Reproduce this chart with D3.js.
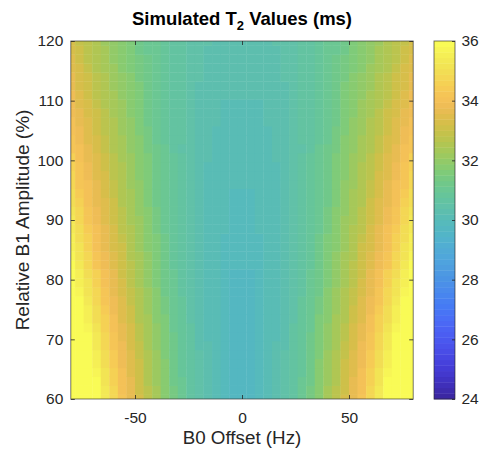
<!DOCTYPE html>
<html>
<head>
<meta charset="utf-8">
<script src="https://cdn.jsdelivr.net/npm/d3@7"></script>
<style>
  html, body { margin: 0; padding: 0; background: #ffffff; }
  svg { display: block; font-family: "Liberation Sans", Arial, Helvetica, sans-serif; }
</style>
</head>
<body>
<svg id="chart" width="480" height="452"></svg>
<script>
// B0 offsets (Hz), one per grid column
const offsetsHz = [-80,-76,-72,-68,-64,-60,-56,-52,-48,-44,-40,-36,-32,-28,-24,-20,-16,-12,-8,-4,0,
  4,8,12,16,20,24,28,32,36,40,44,48,52,56,60,64,68,72,76,80];

// Relative B1 amplitudes (%), one per grid row (bottom to top)
const b1Levels = [60,61.5,63,64.5,66,67.5,69,70.5,72,73.5,75,76.5,78,79.5,81,82.5,84,85.5,87,88.5,90,
  91.5,93,94.5,96,97.5,99,100.5,102,103.5,105,106.5,108,109.5,111,112.5,114,115.5,117,118.5,120];

// Simulated T2 (ms); t2Rows[r][c] belongs to b1Levels[r] and offsetsHz[c]
const t2Rows = [
  [38.2,37.5,36.8,36.1,35.4,34.8,34.2,33.7,33.2,32.7,32.3,31.8,31.4,31.0,30.7,30.4,30.2,30.0,29.9,29.8,29.8,29.8,29.9,30.0,30.2,30.4,30.7,31.0,31.4,31.8,32.3,32.7,33.2,33.7,34.2,34.8,35.4,36.1,36.8,37.5,38.2],
  [38.1,37.4,36.7,36.0,35.3,34.7,34.1,33.6,33.1,32.7,32.3,31.8,31.4,31.0,30.7,30.4,30.2,30.0,29.9,29.8,29.8,29.8,29.9,30.0,30.2,30.4,30.7,31.0,31.4,31.8,32.3,32.7,33.1,33.6,34.1,34.7,35.3,36.0,36.7,37.4,38.1],
  [37.9,37.2,36.5,35.9,35.2,34.6,34.1,33.6,33.1,32.6,32.2,31.7,31.3,31.0,30.7,30.4,30.2,30.0,29.9,29.8,29.8,29.8,29.9,30.0,30.2,30.4,30.7,31.0,31.3,31.7,32.2,32.6,33.1,33.6,34.1,34.6,35.2,35.9,36.5,37.2,37.9],
  [37.8,37.1,36.4,35.7,35.1,34.5,34.0,33.5,33.0,32.6,32.2,31.7,31.3,30.9,30.6,30.4,30.2,30.0,29.9,29.8,29.8,29.8,29.9,30.0,30.2,30.4,30.6,30.9,31.3,31.7,32.2,32.6,33.0,33.5,34.0,34.5,35.1,35.7,36.4,37.1,37.8],
  [37.6,37.0,36.3,35.6,35.0,34.4,33.9,33.4,33.0,32.5,32.1,31.7,31.3,30.9,30.6,30.4,30.2,30.0,29.9,29.8,29.8,29.8,29.9,30.0,30.2,30.4,30.6,30.9,31.3,31.7,32.1,32.5,33.0,33.4,33.9,34.4,35.0,35.6,36.3,37.0,37.6],
  [37.5,36.8,36.2,35.5,34.9,34.4,33.9,33.4,32.9,32.5,32.1,31.6,31.2,30.9,30.6,30.4,30.2,30.0,29.9,29.8,29.8,29.8,29.9,30.0,30.2,30.4,30.6,30.9,31.2,31.6,32.1,32.5,32.9,33.4,33.9,34.4,34.9,35.5,36.2,36.8,37.5],
  [37.4,36.7,36.1,35.4,34.8,34.3,33.8,33.3,32.9,32.4,32.0,31.6,31.2,30.9,30.6,30.3,30.2,30.0,29.9,29.8,29.8,29.8,29.9,30.0,30.2,30.3,30.6,30.9,31.2,31.6,32.0,32.4,32.9,33.3,33.8,34.3,34.8,35.4,36.1,36.7,37.4],
  [37.2,36.6,35.9,35.3,34.7,34.2,33.7,33.3,32.8,32.4,32.0,31.6,31.2,30.9,30.6,30.3,30.1,30.0,29.9,29.8,29.8,29.8,29.9,30.0,30.1,30.3,30.6,30.9,31.2,31.6,32.0,32.4,32.8,33.3,33.7,34.2,34.7,35.3,35.9,36.6,37.2],
  [37.1,36.4,35.8,35.2,34.6,34.1,33.6,33.2,32.7,32.3,31.9,31.5,31.1,30.8,30.6,30.3,30.1,30.0,29.9,29.8,29.8,29.8,29.9,30.0,30.1,30.3,30.6,30.8,31.1,31.5,31.9,32.3,32.7,33.2,33.6,34.1,34.6,35.2,35.8,36.4,37.1],
  [36.9,36.2,35.6,35.0,34.5,34.0,33.5,33.1,32.6,32.3,31.8,31.5,31.1,30.8,30.5,30.3,30.1,30.0,29.9,29.8,29.8,29.8,29.9,30.0,30.1,30.3,30.5,30.8,31.1,31.5,31.8,32.3,32.6,33.1,33.5,34.0,34.5,35.0,35.6,36.2,36.9],
  [36.7,36.1,35.5,34.9,34.4,33.9,33.5,33.0,32.6,32.2,31.8,31.4,31.1,30.8,30.5,30.3,30.1,30.0,29.9,29.8,29.8,29.8,29.9,30.0,30.1,30.3,30.5,30.8,31.1,31.4,31.8,32.2,32.6,33.0,33.5,33.9,34.4,34.9,35.5,36.1,36.7],
  [36.5,35.9,35.3,34.8,34.3,33.8,33.4,32.9,32.5,32.2,31.7,31.4,31.0,30.8,30.5,30.3,30.1,30.0,29.9,29.8,29.8,29.8,29.9,30.0,30.1,30.3,30.5,30.8,31.0,31.4,31.7,32.2,32.5,32.9,33.4,33.8,34.3,34.8,35.3,35.9,36.5],
  [36.4,35.8,35.2,34.7,34.2,33.7,33.3,32.9,32.5,32.1,31.7,31.3,31.0,30.7,30.5,30.3,30.1,30.0,29.9,29.8,29.8,29.8,29.9,30.0,30.1,30.3,30.5,30.7,31.0,31.3,31.7,32.1,32.5,32.9,33.3,33.7,34.2,34.7,35.2,35.8,36.4],
  [36.2,35.6,35.1,34.6,34.1,33.6,33.2,32.8,32.4,32.0,31.6,31.3,31.0,30.7,30.5,30.3,30.1,30.0,29.9,29.8,29.8,29.8,29.9,30.0,30.1,30.3,30.5,30.7,31.0,31.3,31.6,32.0,32.4,32.8,33.2,33.6,34.1,34.6,35.1,35.6,36.2],
  [36.1,35.5,35.0,34.5,34.0,33.6,33.1,32.7,32.4,32.0,31.6,31.3,31.0,30.7,30.5,30.3,30.1,30.0,29.9,29.8,29.8,29.8,29.9,30.0,30.1,30.3,30.5,30.7,31.0,31.3,31.6,32.0,32.4,32.7,33.1,33.6,34.0,34.5,35.0,35.5,36.1],
  [35.9,35.3,34.8,34.3,33.9,33.5,33.1,32.7,32.3,31.9,31.6,31.2,30.9,30.7,30.5,30.3,30.1,30.0,29.9,29.9,29.9,29.9,29.9,30.0,30.1,30.3,30.5,30.7,30.9,31.2,31.6,31.9,32.3,32.7,33.1,33.5,33.9,34.3,34.8,35.3,35.9],
  [35.8,35.2,34.7,34.2,33.8,33.4,33.0,32.6,32.3,31.9,31.6,31.2,30.9,30.7,30.4,30.3,30.1,30.0,29.9,29.9,29.9,29.9,29.9,30.0,30.1,30.3,30.4,30.7,30.9,31.2,31.6,31.9,32.3,32.6,33.0,33.4,33.8,34.2,34.7,35.2,35.8],
  [35.6,35.1,34.6,34.1,33.7,33.3,33.0,32.6,32.2,31.8,31.5,31.2,30.9,30.7,30.4,30.3,30.1,30.0,29.9,29.9,29.9,29.9,29.9,30.0,30.1,30.3,30.4,30.7,30.9,31.2,31.5,31.8,32.2,32.6,33.0,33.3,33.7,34.1,34.6,35.1,35.6],
  [35.5,35.0,34.5,34.1,33.7,33.3,32.9,32.5,32.2,31.8,31.5,31.2,30.9,30.7,30.4,30.3,30.1,30.0,29.9,29.9,29.9,29.9,29.9,30.0,30.1,30.3,30.4,30.7,30.9,31.2,31.5,31.8,32.2,32.5,32.9,33.3,33.7,34.1,34.5,35.0,35.5],
  [35.4,34.9,34.4,34.0,33.6,33.2,32.8,32.5,32.1,31.8,31.4,31.1,30.9,30.6,30.4,30.3,30.1,30.0,30.0,29.9,29.9,29.9,30.0,30.0,30.1,30.3,30.4,30.6,30.9,31.1,31.4,31.8,32.1,32.5,32.8,33.2,33.6,34.0,34.4,34.9,35.4],
  [35.3,34.8,34.3,33.9,33.5,33.1,32.7,32.4,32.1,31.7,31.4,31.1,30.9,30.6,30.4,30.3,30.1,30.0,30.0,29.9,29.9,29.9,30.0,30.0,30.1,30.3,30.4,30.6,30.9,31.1,31.4,31.7,32.1,32.4,32.7,33.1,33.5,33.9,34.3,34.8,35.3],
  [35.1,34.7,34.2,33.8,33.4,33.1,32.7,32.4,32.0,31.7,31.4,31.1,30.8,30.6,30.4,30.3,30.1,30.0,30.0,29.9,29.9,29.9,30.0,30.0,30.1,30.3,30.4,30.6,30.8,31.1,31.4,31.7,32.0,32.4,32.7,33.1,33.4,33.8,34.2,34.7,35.1],
  [35.0,34.6,34.1,33.7,33.4,33.0,32.6,32.3,32.0,31.6,31.3,31.0,30.8,30.6,30.4,30.3,30.1,30.0,30.0,29.9,29.9,29.9,30.0,30.0,30.1,30.3,30.4,30.6,30.8,31.0,31.3,31.6,32.0,32.3,32.6,33.0,33.4,33.7,34.1,34.6,35.0],
  [34.9,34.4,34.0,33.7,33.3,32.9,32.6,32.3,31.9,31.6,31.3,31.0,30.8,30.6,30.4,30.3,30.1,30.0,30.0,29.9,29.9,29.9,30.0,30.0,30.1,30.3,30.4,30.6,30.8,31.0,31.3,31.6,31.9,32.3,32.6,32.9,33.3,33.7,34.0,34.4,34.9],
  [34.8,34.3,34.0,33.6,33.2,32.9,32.5,32.2,31.9,31.6,31.3,31.0,30.8,30.6,30.4,30.3,30.1,30.1,30.0,30.0,30.0,30.0,30.0,30.1,30.1,30.3,30.4,30.6,30.8,31.0,31.3,31.6,31.9,32.2,32.5,32.9,33.2,33.6,34.0,34.3,34.8],
  [34.7,34.2,33.9,33.5,33.2,32.8,32.5,32.2,31.8,31.5,31.3,31.0,30.8,30.6,30.4,30.3,30.1,30.1,30.0,30.0,30.0,30.0,30.0,30.1,30.1,30.3,30.4,30.6,30.8,31.0,31.3,31.5,31.8,32.2,32.5,32.8,33.2,33.5,33.9,34.2,34.7],
  [34.6,34.2,33.8,33.4,33.1,32.7,32.5,32.1,31.8,31.5,31.2,31.0,30.8,30.6,30.4,30.3,30.1,30.1,30.0,30.0,30.0,30.0,30.0,30.1,30.1,30.3,30.4,30.6,30.8,31.0,31.2,31.5,31.8,32.1,32.5,32.7,33.1,33.4,33.8,34.2,34.6],
  [34.5,34.1,33.7,33.4,33.0,32.7,32.4,32.1,31.7,31.5,31.2,31.0,30.8,30.6,30.4,30.3,30.2,30.1,30.0,30.0,30.0,30.0,30.0,30.1,30.2,30.3,30.4,30.6,30.8,31.0,31.2,31.5,31.7,32.1,32.4,32.7,33.0,33.4,33.7,34.1,34.5],
  [34.3,34.0,33.6,33.3,32.9,32.6,32.3,32.0,31.7,31.4,31.2,31.0,30.7,30.5,30.4,30.3,30.2,30.1,30.0,30.0,30.0,30.0,30.0,30.1,30.2,30.3,30.4,30.5,30.7,31.0,31.2,31.4,31.7,32.0,32.3,32.6,32.9,33.3,33.6,34.0,34.3],
  [34.2,33.9,33.5,33.2,32.9,32.6,32.3,32.0,31.7,31.4,31.1,30.9,30.7,30.6,30.4,30.3,30.2,30.1,30.1,30.0,30.0,30.0,30.1,30.1,30.2,30.3,30.4,30.6,30.7,30.9,31.1,31.4,31.7,32.0,32.3,32.6,32.9,33.2,33.5,33.9,34.2],
  [34.1,33.8,33.5,33.1,32.8,32.5,32.2,31.9,31.6,31.4,31.1,30.9,30.7,30.6,30.4,30.3,30.2,30.1,30.1,30.1,30.1,30.1,30.1,30.1,30.2,30.3,30.4,30.6,30.7,30.9,31.1,31.4,31.6,31.9,32.2,32.5,32.8,33.1,33.5,33.8,34.1],
  [34.0,33.7,33.4,33.1,32.7,32.5,32.2,31.9,31.6,31.3,31.1,30.9,30.7,30.6,30.4,30.3,30.2,30.2,30.1,30.1,30.1,30.1,30.1,30.2,30.2,30.3,30.4,30.6,30.7,30.9,31.1,31.3,31.6,31.9,32.2,32.5,32.7,33.1,33.4,33.7,34.0],
  [33.9,33.6,33.3,33.0,32.7,32.4,32.1,31.8,31.6,31.3,31.1,30.9,30.7,30.6,30.4,30.3,30.2,30.2,30.1,30.1,30.1,30.1,30.1,30.2,30.2,30.3,30.4,30.6,30.7,30.9,31.1,31.3,31.6,31.8,32.1,32.4,32.7,33.0,33.3,33.6,33.9],
  [33.9,33.5,33.2,32.9,32.6,32.4,32.1,31.8,31.5,31.3,31.1,30.9,30.7,30.6,30.4,30.3,30.2,30.2,30.1,30.1,30.1,30.1,30.1,30.2,30.2,30.3,30.4,30.6,30.7,30.9,31.1,31.3,31.5,31.8,32.1,32.4,32.6,32.9,33.2,33.5,33.9],
  [33.8,33.4,33.1,32.8,32.6,32.3,32.0,31.7,31.5,31.3,31.1,30.9,30.7,30.6,30.5,30.3,30.3,30.2,30.2,30.2,30.2,30.2,30.2,30.2,30.3,30.3,30.5,30.6,30.7,30.9,31.1,31.3,31.5,31.7,32.0,32.3,32.6,32.8,33.1,33.4,33.8],
  [33.6,33.3,33.0,32.8,32.5,32.2,31.9,31.7,31.5,31.2,31.0,30.9,30.7,30.6,30.5,30.3,30.3,30.2,30.2,30.2,30.2,30.2,30.2,30.2,30.3,30.3,30.5,30.6,30.7,30.9,31.0,31.2,31.5,31.7,31.9,32.2,32.5,32.8,33.0,33.3,33.6],
  [33.6,33.3,33.0,32.7,32.5,32.2,31.9,31.7,31.4,31.2,31.0,30.9,30.7,30.6,30.5,30.4,30.3,30.3,30.2,30.2,30.2,30.2,30.2,30.3,30.3,30.4,30.5,30.6,30.7,30.9,31.0,31.2,31.4,31.7,31.9,32.2,32.5,32.7,33.0,33.3,33.6],
  [33.5,33.2,32.9,32.6,32.4,32.1,31.8,31.6,31.4,31.2,31.0,30.8,30.7,30.6,30.5,30.4,30.3,30.3,30.2,30.2,30.2,30.2,30.2,30.3,30.3,30.4,30.5,30.6,30.7,30.8,31.0,31.2,31.4,31.6,31.8,32.1,32.4,32.6,32.9,33.2,33.5],
  [33.4,33.1,32.8,32.6,32.3,32.0,31.8,31.6,31.4,31.2,31.0,30.8,30.7,30.6,30.5,30.4,30.3,30.3,30.2,30.2,30.2,30.2,30.2,30.3,30.3,30.4,30.5,30.6,30.7,30.8,31.0,31.2,31.4,31.6,31.8,32.0,32.3,32.6,32.8,33.1,33.4],
  [33.3,33.0,32.7,32.5,32.3,32.0,31.8,31.5,31.3,31.1,31.0,30.8,30.7,30.6,30.5,30.4,30.3,30.3,30.3,30.3,30.3,30.3,30.3,30.3,30.3,30.4,30.5,30.6,30.7,30.8,31.0,31.1,31.3,31.5,31.8,32.0,32.3,32.5,32.7,33.0,33.3],
  [33.2,32.9,32.7,32.5,32.2,31.9,31.7,31.5,31.3,31.1,31.0,30.8,30.7,30.6,30.5,30.4,30.4,30.3,30.3,30.3,30.3,30.3,30.3,30.3,30.4,30.4,30.5,30.6,30.7,30.8,31.0,31.1,31.3,31.5,31.7,31.9,32.2,32.5,32.7,32.9,33.2]
];

// Colour axis limits and ticks
const colorTicks = [24, 26, 28, 30, 32, 34, 36];
const xTicks = [-50, 0, 50];
const yTicks = [60, 70, 80, 90, 100, 110, 120];

// parula colour map, 64 entries (sRGB)
const parula = [
  "#3e26a8","#402ab4","#422ec0","#4332cb","#4537d5","#463cde","#4741e5","#4747eb",
  "#484df0","#4852f4","#4758f8","#465efb","#4563fd","#4269fe","#3e6fff","#3875fe",
  "#327cfc","#2f81fa","#2e87f7","#2d8cf3","#2b91ef","#2796eb","#259be8","#23a0e5",
  "#20a5e3","#1ca9df","#18addb","#12b1d6","#08b5d0","#01b8ca","#02bac3","#0bbdbd",
  "#19bfb6","#24c1ae","#2cc4a7","#31c69f","#37c897","#3fca8e","#4acb84","#57cc7a",
  "#64cd6f","#72cd64","#81cc59","#8fcb4e","#9dc943","#abc739","#b9c431","#c5c22a",
  "#d1bf27","#dcbd29","#e6bb2d","#f0ba36","#f8ba3d","#febe3c","#fec338","#fec934",
  "#fccf30","#fad62d","#f7dc2a","#f5e327","#f5e924","#f6ef20","#f7f51b","#f9fb15"
];

// re-express each colour in Display P3 channel values (softer, screen-captured look)
function toDisplayP3(hex) {
  const c = d3.rgb(hex);
  const lin = v => { v /= 255; return v <= 0.04045 ? v / 12.92 : Math.pow((v + 0.055) / 1.055, 2.4); };
  const enc = v => {
    v = Math.max(0, Math.min(1, v));
    return 255 * (v <= 0.0031308 ? 12.92 * v : 1.055 * Math.pow(v, 1 / 2.4) - 0.055);
  };
  const r = lin(c.r), g = lin(c.g), b = lin(c.b);
  return d3.rgb(
    enc(0.8225 * r + 0.1774 * g),
    enc(0.0332 * r + 0.9669 * g),
    enc(0.0171 * r + 0.0724 * g + 0.9108 * b)
  ).formatHex();
}
const palette = parula.map(toDisplayP3);

const svg = d3.select("#chart");
const ink = "#262626";

const plot = { left: 70.8, right: 413.2, top: 41, bottom: 399 };
const bar = { left: 434, right: 455, top: 41, bottom: 399 };

const xExtent = d3.extent(offsetsHz);
const yExtent = d3.extent(b1Levels);
const x = d3.scaleLinear().domain(xExtent).range([plot.left, plot.right]);
const y = d3.scaleLinear().domain(yExtent).range([plot.bottom, plot.top]);
const cDomain = d3.extent(colorTicks);
const color = d3.scaleQuantize().domain(cDomain).range(palette);

// image cells: each value sits at the centre of its cell, edges clipped to the axes
const dx = offsetsHz[1] - offsetsHz[0];
const dy = b1Levels[1] - b1Levels[0];
const cells = [];
t2Rows.forEach((row, r) => {
  row.forEach((v, c) => {
    cells.push({
      x0: Math.max(offsetsHz[c] - dx / 2, xExtent[0]),
      x1: Math.min(offsetsHz[c] + dx / 2, xExtent[1]),
      y0: Math.max(b1Levels[r] - dy / 2, yExtent[0]),
      y1: Math.min(b1Levels[r] + dy / 2, yExtent[1]),
      v
    });
  });
});

svg.append("clipPath").attr("id", "plot-clip")
  .append("rect")
  .attr("x", plot.left).attr("y", plot.top)
  .attr("width", plot.right - plot.left).attr("height", plot.bottom - plot.top);

svg.append("g").attr("clip-path", "url(#plot-clip)")
  .selectAll("rect")
  .data(cells)
  .join("rect")
  .attr("x", d => x(d.x0))
  .attr("y", d => y(d.y1))
  .attr("width", d => x(d.x1) - x(d.x0) + 0.4)
  .attr("height", d => y(d.y0) - y(d.y1) + 0.4)
  .attr("fill", d => color(d.v));

// axes, ticks pointing inwards on all four sides
const tickLen = 4;
const noLabel = () => "";
function styleAxis(g) {
  g.select(".domain").remove();
  g.selectAll(".tick line").attr("stroke", ink).attr("stroke-width", 0.8);
  g.selectAll(".tick text").attr("fill", ink).attr("font-size", 15.5)
    .attr("font-family", '"Liberation Sans", Arial, Helvetica, sans-serif');
}

svg.append("g").attr("transform", `translate(0,${plot.bottom})`)
  .call(d3.axisBottom(x).tickValues(xTicks).tickFormat(d => String(d))
    .tickSizeInner(-tickLen).tickSizeOuter(0).tickPadding(12.5))
  .call(styleAxis);
svg.append("g").attr("transform", `translate(0,${plot.top})`)
  .call(d3.axisTop(x).tickValues(xTicks).tickFormat(noLabel)
    .tickSizeInner(-tickLen).tickSizeOuter(0))
  .call(styleAxis);
svg.append("g").attr("transform", `translate(${plot.left},0)`)
  .call(d3.axisLeft(y).tickValues(yTicks).tickFormat(d => String(d))
    .tickSizeInner(-tickLen).tickSizeOuter(0).tickPadding(7.5))
  .call(styleAxis);
svg.append("g").attr("transform", `translate(${plot.right},0)`)
  .call(d3.axisRight(y).tickValues(yTicks).tickFormat(noLabel)
    .tickSizeInner(-tickLen).tickSizeOuter(0))
  .call(styleAxis);

svg.append("rect")
  .attr("x", plot.left).attr("y", plot.top)
  .attr("width", plot.right - plot.left).attr("height", plot.bottom - plot.top)
  .attr("fill", "none").attr("stroke", ink).attr("stroke-opacity", 0.7).attr("stroke-width", 0.9);

// colour bar
const cScale = d3.scaleLinear().domain(cDomain).range([bar.bottom, bar.top]);
const step = (cDomain[1] - cDomain[0]) / palette.length;
svg.append("g")
  .selectAll("rect")
  .data(palette)
  .join("rect")
  .attr("x", bar.left)
  .attr("width", bar.right - bar.left)
  .attr("y", (d, i) => cScale(cDomain[0] + (i + 1) * step))
  .attr("height", (d, i) => cScale(cDomain[0] + i * step) - cScale(cDomain[0] + (i + 1) * step) + 0.4)
  .attr("fill", d => d);

svg.append("g").attr("transform", `translate(${bar.right},0)`)
  .call(d3.axisRight(cScale).tickValues(colorTicks).tickFormat(d => String(d))
    .tickSizeInner(-3).tickSizeOuter(0).tickPadding(6.5))
  .call(styleAxis);

svg.append("rect")
  .attr("x", bar.left).attr("y", bar.top)
  .attr("width", bar.right - bar.left).attr("height", bar.bottom - bar.top)
  .attr("fill", "none").attr("stroke", ink).attr("stroke-opacity", 0.7).attr("stroke-width", 0.9);

// title with subscript
const midX = (plot.left + plot.right) / 2;
const title = svg.append("text")
  .attr("x", midX).attr("y", 25)
  .attr("text-anchor", "middle")
  .attr("font-weight", "bold").attr("font-size", 18.5).attr("fill", "#000");
title.append("tspan").text("Simulated T");
title.append("tspan").attr("dy", 5).attr("font-size", 13).text("2");
title.append("tspan").attr("dy", -5).text(" Values (ms)");

// axis labels
svg.append("text")
  .attr("x", midX).attr("y", 443.5)
  .attr("text-anchor", "middle").attr("font-size", 18.8).attr("fill", ink)
  .text("B0 Offset (Hz)");

svg.append("text")
  .attr("transform", `translate(29,${(plot.top + plot.bottom) / 2}) rotate(-90)`)
  .attr("text-anchor", "middle").attr("font-size", 19).attr("fill", ink)
  .text("Relative B1 Amplitude (%)");
</script>
</body>
</html>
